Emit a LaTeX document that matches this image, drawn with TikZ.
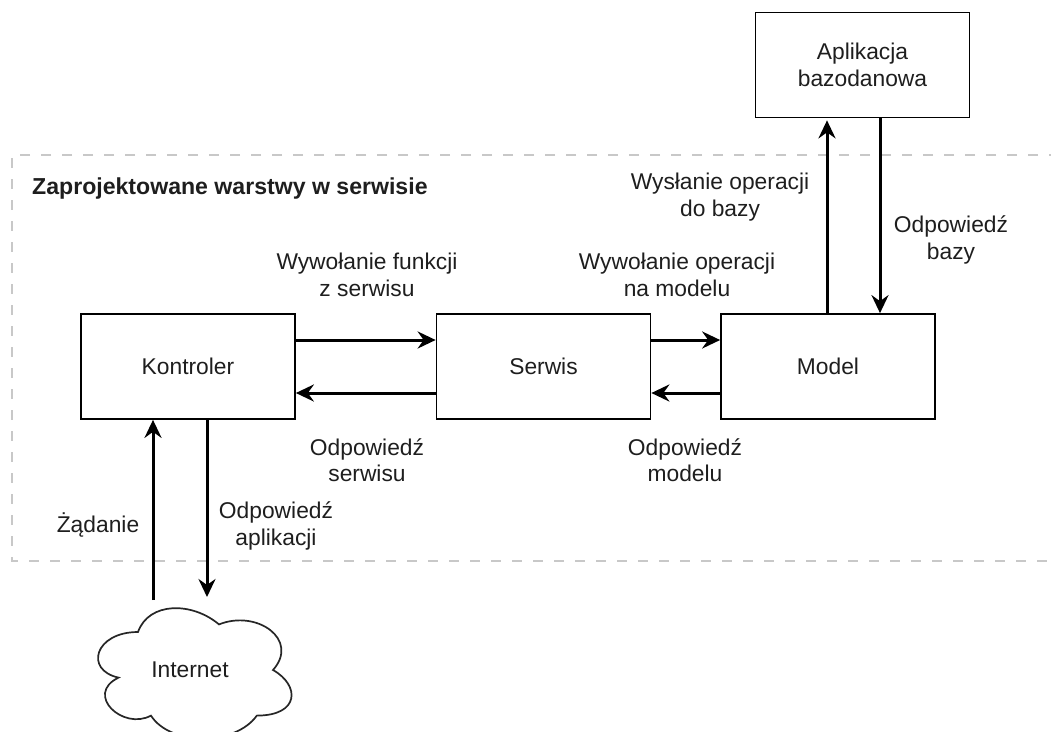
\documentclass[tikz,border=0pt]{standalone}
\usepackage{fontspec}
\setmainfont{Liberation Sans}
\usetikzlibrary{arrows.meta}
\definecolor{dashgray}{HTML}{C8C8C8}
\definecolor{txt}{HTML}{1E1E1E}
\tikzset{
  box/.style={draw=black, line width=1.7pt, minimum width=214pt, minimum height=105pt, align=center, inner sep=0pt, text=txt},
  lbl/.style={align=center, text=txt, inner sep=0pt},
  arr/.style={line width=3pt, -{Stealth[length=18pt,width=17pt,inset=6pt]}},
  frame/.style={draw=dashgray, line width=2.5pt, dash pattern=on 10pt off 11pt},
  cloudline/.style={draw=black!85, line width=1.7pt, fill=white}
}
\begin{document}
\begin{tikzpicture}[x=1pt,y=-1pt, font=\fontsize{22.8}{26.5}\selectfont]
\useasboundingbox (0,0) rectangle (1051,731);
\clip (0,0) rectangle (1051,731);
% dashed frame
\draw[frame] (1080,155) -- (12,155) -- (12,561) -- (1080,561);
\node[lbl, anchor=west, font=\fontsize{23.1}{27}\selectfont\bfseries] (title) at (32,189) {Zaprojektowane warstwy w serwisie};
% boxes
\node[box] (k) at (188,366.5) {Kontroler};
\node[box] (s) at (543.5,366.5) {Serwis};
\node[box] (m) at (828,366.5) {Model};
\node[box] (a) at (862.5,65) {Aplikacja\\bazodanowa};
% cloud
\draw[cloudline] (138,632)
  .. controls (94.8,632) and (84,670) .. (118.56,677.6)
  .. controls (84,694.32) and (122.88,730.8) .. (150.96,715.6)
  .. controls (170.4,746) and (235.2,746) .. (256.8,715.6)
  .. controls (300,715.6) and (300,685.2) .. (273,670)
  .. controls (300,639.6) and (256.8,609.2) .. (219,624.4)
  .. controls (192,601.6) and (148.8,601.6) .. (138,632) -- cycle;
\node[lbl] (inet) at (190,670) {Internet};
\coordinate (c1) at (153,600);
\coordinate (c2) at (207,597);
% horizontal arrows
\draw[arr] ([yshift=26.5pt]k.east) -- ([yshift=26.5pt]s.west);
\draw[arr] ([yshift=-26.5pt]s.west) -- ([yshift=-26.5pt]k.east);
\draw[arr] ([yshift=26.5pt]s.east) -- ([yshift=26.5pt]m.west);
\draw[arr] ([yshift=-26.5pt]m.west) -- ([yshift=-26.5pt]s.east);
% vertical arrows to database
\draw[arr, shorten >=2pt] ([xshift=-1pt]m.north) -- ([xshift=-1pt]m.north |- a.south);
\draw[arr] ([xshift=17.5pt]a.south) -- ([xshift=17.5pt]a.south |- m.north);
% internet arrows
\draw[arr] (c1) -- (c1 |- k.south);
\draw[arr] (k.south -| c2) -- (c2);
% labels
\node[lbl] (l1) at (367,275) {Wywołanie funkcji\\z serwisu};
\node[lbl] (l2) at (367,460) {Odpowiedź\\serwisu};
\node[lbl] (l3) at (677,275) {Wywołanie operacji\\na modelu};
\node[lbl] (l4) at (685,460) {Odpowiedź\\modelu};
\node[lbl] (l5) at (720,197) {Wysłanie operacji\\do bazy};
\node[lbl] (l6) at (951,240) {Odpowiedź\\bazy};
\node[lbl] (l7) at (98,525) {Żądanie};
\node[lbl] (l8) at (276,526) {Odpowiedź\\aplikacji};
\end{tikzpicture}
\end{document}
